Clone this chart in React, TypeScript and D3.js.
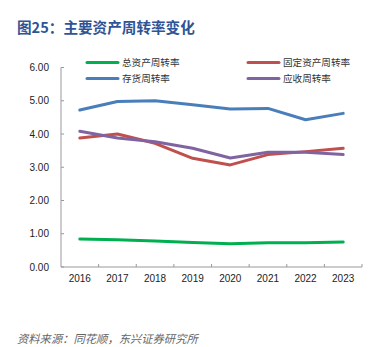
import React from "react";
import * as d3 from "d3";

const years = ["2016", "2017", "2018", "2019", "2020", "2021", "2022", "2023"];
const totalAsset = [0.84, 0.82, 0.78, 0.74, 0.70, 0.73, 0.73, 0.75];
const fixedAsset = [3.88, 4.0, 3.72, 3.27, 3.07, 3.38, 3.47, 3.57];
const inventory = [4.72, 4.98, 5.0, 4.88, 4.75, 4.77, 4.43, 4.62];
const receivable = [4.08, 3.88, 3.77, 3.57, 3.28, 3.45, 3.45, 3.38];
const yTicks = [0, 1, 2, 3, 4, 5, 6];

const seriesNames = ["总资产周转率", "固定资产周转率", "存货周转率", "应收周转率"];
const seriesColors = ["#00B050", "#C0504D", "#4A7EBB", "#8064A2"];

export default function App() {
  const W = 385, H = 347;
  const left = 61, right = 362, top = 67.5, bottom = 267;
  const x = d3.scaleBand<string>().domain(years).range([left, right]);
  const y = d3.scaleLinear().domain([0, 6]).range([bottom, top]);
  const cx = (d: string) => (x(d) as number) + x.bandwidth() / 2;
  const line = d3
    .line<number>()
    .x((_, i) => cx(years[i]))
    .y((v) => y(v));
  const data = [totalAsset, fixedAsset, inventory, receivable];
  const font = "Liberation Sans, Arial, sans-serif";
  const cjk = "'Noto Sans CJK SC', sans-serif";
  const legendPos = [
    { x: 87, y: 62.5 },
    { x: 248, y: 62.5 },
    { x: 87, y: 78.5 },
    { x: 248, y: 78.5 },
  ];
  return (
    <svg width={W} height={H} style={{ position: "absolute", left: 0, top: 0, background: "#fff" }}>
      <rect x={0} y={0} width={W} height={H} fill="#fff" />
      <text x={17} y={33} fontFamily={cjk} fontWeight={700} fontSize={14.6} fill="#2F5496">
        图25：主要资产周转率变化
      </text>
      {/* axes */}
      <line x1={left} x2={left} y1={top} y2={bottom} stroke="#999" strokeWidth={1} />
      <line x1={left} x2={right} y1={bottom} y2={bottom} stroke="#999" strokeWidth={1} />
      {yTicks.map((t) => (
        <g key={t}>
          <line x1={left} x2={left + 3} y1={y(t)} y2={y(t)} stroke="#999" />
          <text x={49} y={y(t) + 3.5} textAnchor="end" fontFamily={font} fontSize={10} fill="#222">
            {t.toFixed(2)}
          </text>
        </g>
      ))}
      {years.map((yr, i) => (
        <g key={yr}>
          {i > 0 && (
            <line x1={x(yr)} x2={x(yr)} y1={bottom} y2={bottom - 3} stroke="#999" />
          )}
          <text x={cx(yr)} y={282} textAnchor="middle" fontFamily={font} fontSize={10} fill="#222">
            {yr}
          </text>
        </g>
      ))}
      <line x1={right} x2={right} y1={bottom} y2={bottom - 3} stroke="#999" />
      {/* lines */}
      {data.map((d, i) => (
        <path
          key={i}
          d={line(d) || ""}
          fill="none"
          stroke={seriesColors[i]}
          strokeWidth={3}
          strokeLinejoin="round"
          strokeLinecap="round"
        />
      ))}
      {/* legend */}
      <rect x={80} y={53} width={280} height={33} fill="#fff" />
      {seriesNames.map((n, i) => (
        <g key={n}>
          <line
            x1={legendPos[i].x}
            x2={legendPos[i].x + 31}
            y1={legendPos[i].y}
            y2={legendPos[i].y}
            stroke={seriesColors[i]}
            strokeWidth={3}
            strokeLinecap="round"
          />
          <text
            x={legendPos[i].x + 35}
            y={legendPos[i].y + 3.5}
            fontFamily={cjk}
            fontSize={9.6}
            fill="#333"
          >
            {n}
          </text>
        </g>
      ))}
      <text
        x={17}
        y={343}
        fontFamily={cjk}
        fontStyle="italic"
        fontSize={11.3}
        fill="#666"
      >
        资料来源：同花顺，东兴证券研究所
      </text>
    </svg>
  );
}
